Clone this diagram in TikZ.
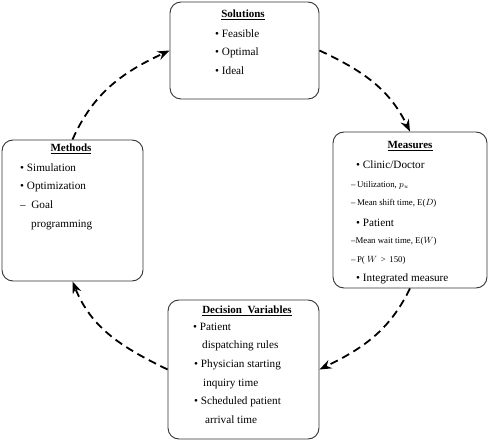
\documentclass[tikz,border=0pt]{standalone}
\usepackage{fontspec}
\setmainfont{Liberation Serif}
\usepackage{tikz}
\usetikzlibrary{positioning,calc,arrows.meta}

\tikzset{
  box/.style={draw=black!80, line width=0.9pt, rounded corners=11pt},
  title/.style={inner sep=0pt, anchor=base, font=\fontsize{11}{13}\selectfont\bfseries},
  item/.style={inner sep=0pt, anchor=base west, font=\fontsize{11.2}{13}\selectfont},
  subitem/.style={inner sep=0pt, anchor=base west, font=\fontsize{8.8}{10}\selectfont},
  flow/.style={line width=1.8pt, dash pattern=on 8pt off 5pt, -{Stealth[length=12pt,width=9pt]}}
}

\begin{document}
\begin{tikzpicture}[x=1pt, y=1pt]
        \useasboundingbox (0,0) rectangle (489,441);

        % Boxes
        \node[box, minimum width=149pt, minimum height=97pt] (sol) at (244.5,390.5) {};
        \node[box, minimum width=154pt, minimum height=156pt] (meas) at (410,231) {};
        \node[box, minimum width=151pt, minimum height=139pt] (dec) at (243.5,71.5) {};
        \node[box, minimum width=141pt, minimum height=141pt] (meth) at (72.5,230.5) {};

        % Solutions
        \node[title] (soltitle) at (243,423) {\underline{Solutions}};
        \node[item] (sol1) at (215,403) {\textbullet\ Feasible};
        \node[item] (sol2) at (215,385) {\textbullet\ Optimal};
        \node[item] (sol3) at (215,366) {\textbullet\ Ideal};

        % Measures
        \node[title] (meastitle) at (410,292) {\underline{Measures}};
        \node[item] (meas1) at (356,272) {\textbullet\ Clinic/Doctor};
        \node[subitem] (meas2) at (351,253) {--\,Utilization, $p_u$};
        \node[subitem] (meas3) at (351,235) {--\,Mean shift time, E($D$)};
        \node[item] (meas4) at (356,214) {\textbullet\ Patient};
        \node[subitem] (meas5) at (351,197) {--Mean wait time, E($W$)};
        \node[subitem] (meas6) at (351,178) {--\,P( $W$ \,>\, 150)};
        \node[item] (meas7) at (356,159) {\textbullet\ Integrated measure};

        % Decision variables
        \node[title] (dectitle) at (247,127) {\underline{Decision\ \ Variables}};
        \node[item] (dec1) at (193,110) {\textbullet\ Patient};
        \node[item] (dec2) at (202,92) {dispatching rules};
        \node[item] (dec3) at (194,73) {\textbullet\ Physician starting};
        \node[item] (dec4) at (203,54) {inquiry time};
        \node[item] (dec5) at (194,36) {\textbullet\ Scheduled patient};
        \node[item] (dec6) at (205,18) {arrival time};

        % Methods
        \node[title] (methtitle) at (71,289) {\underline{Methods}};
        \node[item] (meth1) at (20,269) {\textbullet\ Simulation};
        \node[item] (meth2) at (20,251) {\textbullet\ Optimization};
        \node[item] (meth3) at (20,232) {--\ \ Goal};
        \node[item] (meth4) at (31,213) {programming};

        % Cycle
        \draw[flow] (sol.east) to[out=-25, in=116] (meas.north);
        \draw[flow] (meas.south) to[out=-116, in=26] (dec.east);
        \draw[flow] (dec.west) to[out=154, in=-68] (meth.south);
        \draw[flow] (meth.north) to[out=66, in=205] (sol.west);
    \end{tikzpicture}
\end{document}
